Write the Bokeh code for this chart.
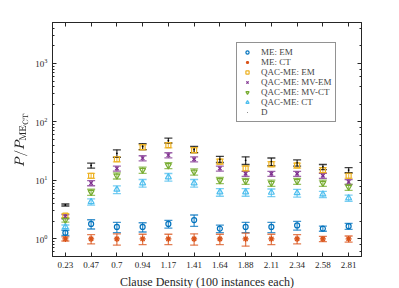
from bokeh.plotting import figure
from bokeh.models import (ColumnDataSource, Whisker, Legend, LegendItem, FixedTicker, LinearAxis,
                          Range1d, CustomJSTickFormatter, LogTicker)
from bokeh.embed import file_html
from bokeh.resources import INLINE

densities = ["0.23", "0.47", "0.7", "0.94", "1.17", "1.41", "1.64", "1.88", "2.11", "2.34", "2.58", "2.81"]

me_em = [1.27, 1.8, 1.6, 1.6, 1.8, 2.1, 1.5, 1.6, 1.6, 1.7, 1.5, 1.65]
me_ct = [1.0, 1.0, 1.0, 1.0, 1.0, 1.0, 1.0, 1.0, 1.0, 1.0, 1.0, 1.0]
qac_em = [2.5, 12, 23, 37, 40, 33, 21, 16, 19, 18, 15, 12]
qac_mvem = [2.4, 9, 16, 24, 27, 23, 16, 13, 13, 13, 12, 9.4]
qac_mvct = [2.1, 6.3, 12, 15, 18, 14, 10, 9.7, 9, 9.7, 9, 7.7]
qac_ct = [1.6, 4.3, 7, 9, 11.4, 9, 6.3, 6.3, 6.2, 6.1, 5.8, 5.0]
d_vals = [3.8, 18, 29, 38, 48, 34, 23, 22, 21, 20, 17, 15]

# relative error (half width)
me_em_err = [0.1, 0.18, 0.2, 0.18, 0.15, 0.22, 0.15, 0.2, 0.2, 0.17, 0.1, 0.12]
me_ct_err = [0.08, 0.18, 0.22, 0.2, 0.2, 0.22, 0.2, 0.25, 0.2, 0.18, 0.1, 0.12]
qac_em_err = [0.08, 0.1, 0.1, 0.1, 0.1, 0.1, 0.1, 0.1, 0.1, 0.1, 0.1, 0.1]
qac_mvem_err = [0.08, 0.1, 0.1, 0.1, 0.1, 0.1, 0.1, 0.1, 0.1, 0.1, 0.1, 0.1]
qac_mvct_err = [0.08, 0.12, 0.12, 0.12, 0.12, 0.12, 0.12, 0.12, 0.12, 0.12, 0.12, 0.12]
qac_ct_err = [0.08, 0.12, 0.15, 0.15, 0.15, 0.15, 0.15, 0.15, 0.15, 0.15, 0.12, 0.12]
d_err = [0.04, 0.1, 0.15, 0.12, 0.1, 0.12, 0.12, 0.15, 0.15, 0.12, 0.1, 0.1]

series = [
    ("ME: EM", me_em, me_em_err, "#0072BD", "circle", 5, dict(fill_color=None)),
    ("ME: CT", me_ct, me_ct_err, "#D95319", "asterisk", 6, dict()),
    ("QAC-ME: EM", qac_em, qac_em_err, "#EDB120", "square", 5, dict(fill_color=None)),
    ("QAC-ME: MV-EM", qac_mvem, qac_mvem_err, "#7E2F8E", "x", 5, dict()),
    ("QAC-ME: MV-CT", qac_mvct, qac_mvct_err, "#77AC30", "inverted_triangle", 6, dict(fill_color=None)),
    ("QAC-ME: CT", qac_ct, qac_ct_err, "#4DBEEE", "triangle", 6, dict(fill_color=None)),
    ("D", d_vals, d_err, "#000000", "dot", 7, dict()),
]

FONT = "Liberation Serif"
AX = "#262626"

p = figure(width=392, height=288, output_backend="svg", toolbar_location=None,
           y_axis_type="log", x_range=Range1d(0.5, 12.5), y_range=Range1d(0.5, 5000),
           min_border_left=52, min_border_right=31, min_border_top=22, min_border_bottom=32,
           frame_width=309, frame_height=234)
p.grid.visible = False
p.outline_line_color = AX

xs = list(range(1, len(densities) + 1))
items = []
for name, vals, err, color, marker, size, extra in series:
    lower = [v * (1 - e) for v, e in zip(vals, err)]
    upper = [v * (1 + e) for v, e in zip(vals, err)]
    src = ColumnDataSource(dict(x=xs, y=vals, lower=lower, upper=upper))
    w = Whisker(source=src, base="x", lower="lower", upper="upper", line_color=color, line_width=1.3, line_alpha=0.75)
    for h in (w.upper_head, w.lower_head):
        h.line_color = color
        h.size = 8
        h.line_alpha = 0.75
        h.line_width = 1.3
    p.add_layout(w)
    r = p.scatter("x", "y", source=src, marker=marker, size=size, line_color=color,
                  fill_color=extra.get("fill_color", color), line_width=1.2)
    items.append(LegendItem(label=name, renderers=[r]))

legend = Legend(items=items, location=(184, 134), label_text_font=FONT, label_text_font_size="9px",
                label_height=8, glyph_height=8, glyph_width=12, spacing=0, padding=4, margin=0,
                label_standoff=8, border_line_color=AX, border_line_width=1)
p.add_layout(legend, "center")

p.xaxis.ticker = FixedTicker(ticks=xs)
p.xaxis.major_label_overrides = {i: d for i, d in zip(xs, densities)}
p.xaxis.axis_label = "Clause Density (100 instances each)"
p.yaxis.axis_label = r"$$P/P_{\mathrm{ME}_\mathrm{CT}}$$"

for ax in [p.xaxis[0], p.yaxis[0]]:
    ax.major_label_text_font = FONT
    ax.major_label_text_font_size = "9px"
    ax.axis_label_text_font = FONT
    ax.axis_label_text_font_size = "12px"
    ax.axis_label_text_font_style = "normal"
    ax.axis_label_text_color = AX
    ax.major_label_text_color = AX
    ax.axis_line_color = AX
    ax.major_tick_line_color = AX
    ax.minor_tick_line_color = AX
    ax.major_tick_in = 4
    ax.major_tick_out = 0
    ax.minor_tick_in = 2
    ax.minor_tick_out = 0
p.xaxis.minor_tick_line_color = None
p.xaxis.axis_label_standoff = 4
p.yaxis.axis_label_standoff = 4

top = LinearAxis(ticker=FixedTicker(ticks=xs), formatter=CustomJSTickFormatter(code="return ''"),
                 major_tick_in=4, major_tick_out=0, minor_tick_line_color=None,
                 axis_line_color=AX, major_tick_line_color=AX, major_label_standoff=0)
p.add_layout(top, "above")
right = LinearAxis(ticker=LogTicker(), formatter=CustomJSTickFormatter(code="return ''"),
                   major_tick_in=4, major_tick_out=0, minor_tick_in=2, minor_tick_out=0,
                   axis_line_color=AX, major_tick_line_color=AX, minor_tick_line_color=AX,
                   major_label_standoff=0)
p.add_layout(right, "right")

open("out.html", "w").write(file_html(p, INLINE))
